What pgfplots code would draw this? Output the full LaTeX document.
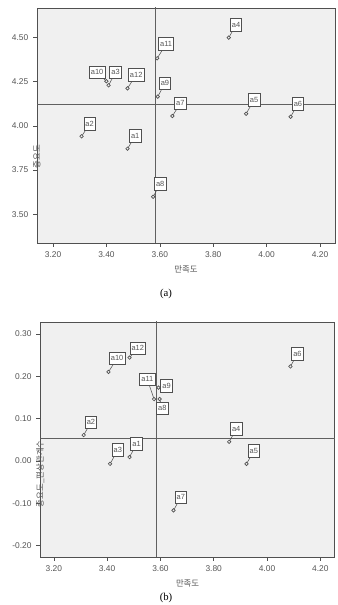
\documentclass[border=0pt]{standalone}
\usepackage{pgfplots}
\pgfplotsset{compat=1.18}
\usepackage{pgfplotstable}
\usepackage{fontspec}
\setmainfont{Liberation Sans}
\newfontfamily\kr{Noto Sans CJK KR}
\newfontfamily\capfont{Liberation Serif}
\definecolor{bgc}{HTML}{F0F0F0}
\definecolor{framec}{HTML}{505050}
\definecolor{refc}{HTML}{606060}
\definecolor{tickc}{HTML}{555555}
\definecolor{markc}{HTML}{505050}

\pgfplotstableread{
lab x y dx dy
a1 3.479 3.871 7.7 12.7
a2 3.307 3.941 8 12.3
a3 3.408 4.230 7 13
a4 3.858 4.500 7.3 12.7
a5 3.923 4.069 8 13.7
a6 4.090 4.052 7.3 13
a7 3.647 4.056 8 12.7
a8 3.575 3.599 7 12.7
a9 3.592 4.166 7.3 13.3
a10 3.400 4.253 -9.3 9
a11 3.590 4.383 9 14.3
a12 3.479 4.213 8.7 13.7
}\tabA

\pgfplotstableread{
lab x y dx dy
a1 3.484 0.009 7 13
a2 3.312 0.061 7.3 12.7
a3 3.411 -0.007 7.7 13.7
a4 3.858 0.045 7 12.7
a5 3.923 -0.007 7.3 12.7
a6 4.088 0.223 7 12.7
a7 3.649 -0.117 7.3 13
a8 3.597 0.146 2.7 -9.3
a9 3.593 0.173 8 1.7
a10 3.405 0.210 8.7 13.7
a11 3.576 0.146 -6.7 19.7
a12 3.484 0.244 8.3 9.3
}\tabB

\pgfplotsset{
  myax/.style={
    scale only axis,
    axis background/.style={fill=bgc},
    axis line style={draw=framec, line width=0.7pt},
    tick align=outside, xtick pos=bottom, ytick pos=left,
    major tick length=3pt,
    tick style={draw=framec, line width=0.5pt},
    ticklabel style={font=\fontsize{6.3}{7}\selectfont, text=tickc},
    xtick={3.2,3.4,3.6,3.8,4.0,4.2},
    /pgf/number format/.cd, fixed, fixed zerofill, precision=2, assume math mode=true, /pgfplots/.cd,
    xlabel style={font=\kr\fontsize{6.3}{7}\selectfont, text=tickc, at={(axis description cs:0.5,0)}, anchor=center, yshift=-19.5pt},
    ylabel style={font=\kr\fontsize{6.3}{7}\selectfont, text=tickc, at={(axis description cs:0,0.5)}, anchor=center, rotate=0},
  },
  labs/.style={
    only marks, mark=*, mark size=1.3pt,
    mark options={draw=markc, fill=bgc, line width=0.5pt},
    nodes near coords, point meta=explicit symbolic,
    visualization depends on={\thisrow{dx}\as\dx},
    visualization depends on={\thisrow{dy}\as\dy},
    every node near coord/.append style={draw=framec, fill=white, line width=0.5pt,
      inner xsep=1.2pt, inner ysep=0pt, minimum height=9.5pt,
      font=\fontsize{5.6}{6}\selectfont, text=tickc, anchor=center,
      xshift=\dx*0.75pt, yshift=\dy*0.75pt},
  },
}

\begin{document}
\begin{tikzpicture}
\useasboundingbox (0,0) rectangle (253.5pt,453.75pt);

% ---------- (a)
\begin{axis}[myax, at={(27.75pt,271.5pt)}, anchor=south west,
  width=223.5pt, height=176.25pt,
  xmin=3.14, xmax=4.256, ymin=3.337, ymax=4.668,
  ytick={3.5,3.75,4.0,4.25,4.5},
  xlabel={만족도}, ylabel={중요도},
  ylabel style={xshift=-23.25pt}]
\addplot[refc, line width=0.7pt] coordinates {(3.582,3.0) (3.582,5.0)};
\addplot[refc, line width=0.7pt] coordinates {(3.0,4.119) (4.5,4.119)};
\addplot[draw=framec, line width=0.4pt, no markers,
  quiver={u=\thisrow{dx}*0.003745, v=\thisrow{dy}*0.005669}] table[x=x,y=y] {\tabA};
\addplot[labs] table[x=x,y=y,meta=lab] {\tabA};
\end{axis}

% ---------- (b)
\begin{axis}[myax, at={(30.2pt,36pt)}, anchor=south west,
  width=221pt, height=176.25pt,
  xmin=3.149, xmax=4.255, ymin=-0.227, ymax=0.328,
  ytick={-0.2,-0.1,0,0.1,0.2,0.3},
  xlabel={만족도}, ylabel={중요도\_편상관계수},
  ylabel style={xshift=-25.7pt}]
\addplot[refc, line width=0.7pt] coordinates {(3.584,-1) (3.584,1)};
\addplot[refc, line width=0.7pt] coordinates {(3.0,0.054) (4.5,0.054)};
\addplot[draw=framec, line width=0.4pt, no markers,
  quiver={u=\thisrow{dx}*0.003752, v=\thisrow{dy}*0.002364}] table[x=x,y=y] {\tabB};
\addplot[labs] table[x=x,y=y,meta=lab] {\tabB};
\end{axis}

\node[font=\capfont\fontsize{8}{9}\selectfont] at (124.5pt,233.25pt) {(a)};
\node[font=\capfont\fontsize{8}{9}\selectfont] at (124.5pt,5.5pt) {(b)};
\end{tikzpicture}
\end{document}
